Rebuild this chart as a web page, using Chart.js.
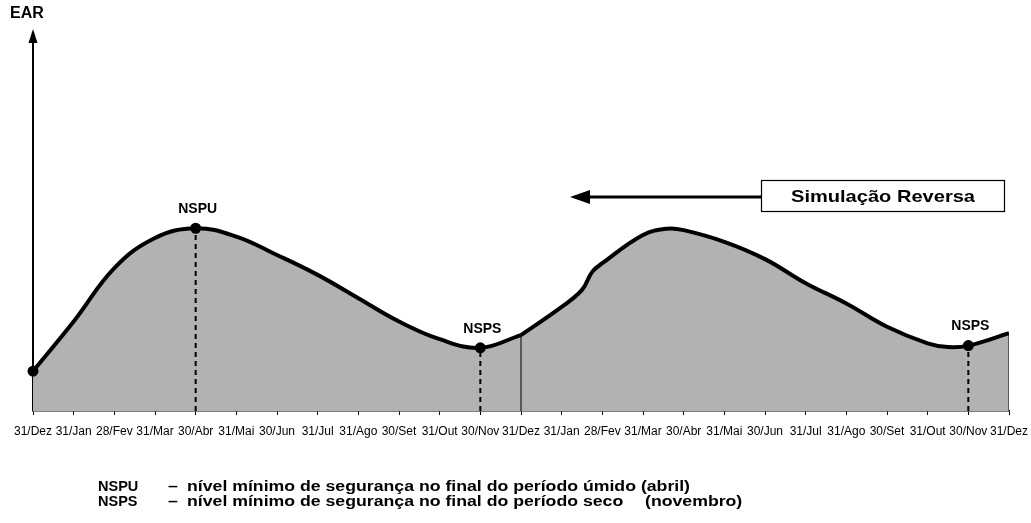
<!DOCTYPE html>
<html>
<head>
<meta charset="utf-8">
<script src="https://cdn.jsdelivr.net/npm/chart.js@4.4.1/dist/chart.umd.min.js"></script>
<style>
  body { margin: 0; background: #fff; }
</style>
</head>
<body>
<canvas id="chart" width="1031" height="523"></canvas>
<script>
// month tick labels (two years, month index 0..24)
const monthLabels = ['31/Dez', '31/Jan', '28/Fev', '31/Mar', '30/Abr', '31/Mai', '30/Jun', '31/Jul', '31/Ago', '30/Set', '31/Out', '30/Nov',
    '31/Dez', '31/Jan', '28/Fev', '31/Mar', '30/Abr', '31/Mai', '30/Jun', '31/Jul', '31/Ago', '30/Set', '31/Out', '30/Nov', '31/Dez'];

// EAR curve, first year (forward)
const year1Month = [0, 1, 2, 3, 4, 5, 6, 7, 8, 9, 10, 11, 12];
const year1Ear = [10.6, 23.8, 38.0, 46.0, 48.6, 46.4, 41.5, 36.2, 30.0, 23.8, 19.1, 16.8, 20.2];

// EAR curve, second year (reverse simulation)
const year2Month = [12, 13, 13.5, 13.75, 14, 15, 15.6, 16, 17, 18, 19, 20, 21, 22, 22.5, 23, 24];
const year2Ear = [20.2, 27.7, 32.2, 37.0, 39.3, 46.8, 48.5, 48.1, 45.0, 40.4, 34.0, 28.6, 22.4, 18.0, 17.0, 17.4, 20.7];

// marked levels
const markMonth = [0, 4, 11, 23];
const markEar = [10.6, 48.6, 16.8, 17.4];
const markName = ['', 'NSPU', 'NSPS', 'NSPS'];

const FONT = '"Liberation Sans", Arial, Helvetica, sans-serif';

const toXY = (xs, ys) => xs.map((x, i) => ({ x: x, y: ys[i] }));

const datasets = [
    { data: toXY(year1Month, year1Ear), borderColor: '#000', borderWidth: 4, backgroundColor: '#b2b2b2',
      fill: 'origin', pointRadius: 0, tension: 0.4, order: 3 },
    { data: toXY(year2Month, year2Ear), borderColor: '#000', borderWidth: 4, backgroundColor: '#b2b2b2',
      fill: 'origin', pointRadius: 0, tension: 0.4, order: 3 },
    // year boundaries
    { data: [{ x: 12, y: 0 }, { x: 12, y: year2Ear[0] }], borderColor: '#000', borderWidth: 1, pointRadius: 0, fill: false, order: 2 },
    { data: [{ x: 24, y: 0 }, { x: 24, y: year2Ear[year2Ear.length - 1] }], borderColor: '#000', borderWidth: 1, pointRadius: 0, fill: false, order: 2 }
];

// dashed drops from the marked levels
markMonth.forEach((m, i) => {
    if (!markName[i]) return;
    datasets.push({ data: [{ x: m, y: 0 }, { x: m, y: markEar[i] }], borderColor: '#000', borderWidth: 2,
        borderDash: [5, 4], pointRadius: 0, fill: false, order: 2 });
});

datasets.push({ data: toXY(markMonth, markEar), showLine: false, pointRadius: 5.5, pointBackgroundColor: '#000',
    pointBorderWidth: 0, clip: false, order: 1 });
const markIndex = datasets.length - 1;

// draw text stretched horizontally by sx (left aligned at x)
function wideText(ctx, text, x, y, sx) {
    ctx.save();
    ctx.translate(x, y);
    ctx.scale(sx, 1);
    ctx.textAlign = 'left';
    ctx.fillText(text, 0, 0);
    ctx.restore();
}

const decor = {
    id: 'decor',
    beforeDatasetsDraw(chart) {
        const ctx = chart.ctx;
        const area = chart.chartArea;
        ctx.save();
        ctx.fillStyle = '#000';
        ctx.strokeStyle = '#000';
        // y axis with arrow
        ctx.lineWidth = 2;
        ctx.beginPath();
        ctx.moveTo(area.left, area.bottom);
        ctx.lineTo(area.left, 42);
        ctx.stroke();
        ctx.beginPath();
        ctx.moveTo(area.left, 29);
        ctx.lineTo(area.left - 4.5, 43);
        ctx.lineTo(area.left + 4.5, 43);
        ctx.closePath();
        ctx.fill();
        ctx.restore();
    },
    afterDatasetsDraw(chart) {
        const ctx = chart.ctx;
        ctx.save();
        ctx.fillStyle = '#000';
        ctx.strokeStyle = '#000';

        ctx.textAlign = 'center';
        ctx.textBaseline = 'middle';
        ctx.font = 'bold 16px ' + FONT;
        ctx.fillText('EAR', 27, 14);

        // level names
        ctx.font = 'bold 14px ' + FONT;
        const pts = chart.getDatasetMeta(markIndex).data;
        pts.forEach((p, i) => {
            if (markName[i]) ctx.fillText(markName[i], p.x + 2, p.y - 19);
        });

        // Simulação Reversa box + arrow
        ctx.lineWidth = 1.2;
        ctx.strokeRect(761.5, 180.5, 243, 31);
        ctx.font = 'bold 17px ' + FONT;
        const title = 'Simulação Reversa';
        wideText(ctx, title, 791, 197, 184 / ctx.measureText(title).width);
        ctx.lineWidth = 3;
        ctx.beginPath();
        ctx.moveTo(761, 197);
        ctx.lineTo(585, 197);
        ctx.stroke();
        ctx.beginPath();
        ctx.moveTo(570, 197);
        ctx.lineTo(590, 190);
        ctx.lineTo(590, 204);
        ctx.closePath();
        ctx.fill();

        // legend text
        ctx.textAlign = 'left';
        ctx.font = 'bold 14.5px ' + FONT;
        ctx.fillText('NSPU', 98, 487);
        ctx.fillText('NSPS', 98, 502);
        const line1 = 'nível mínimo de segurança no final do período úmido (abril)';
        const sx = 503 / ctx.measureText(line1).width;
        wideText(ctx, '–', 168, 487, sx);
        wideText(ctx, '–', 168, 502, sx);
        wideText(ctx, line1, 187, 487, sx);
        wideText(ctx, 'nível mínimo de segurança no final do período seco', 187, 502, sx);
        wideText(ctx, '(novembro)', 645, 502, sx);
        ctx.restore();
    }
};

new Chart(document.getElementById('chart'), {
    type: 'line',
    data: { datasets: datasets },
    options: {
        responsive: false,
        animation: false,
        layout: { padding: { left: 33, right: 22, top: 35, bottom: 0 } },
        plugins: { legend: { display: false }, tooltip: { enabled: false } },
        scales: {
            x: {
                type: 'linear',
                min: 0,
                max: 24,
                afterFit: (scale) => {
                    scale.height = 112;
                    scale.paddingLeft = 0;
                    scale.paddingRight = 0;
                },
                border: { color: '#000', width: 1.5 },
                grid: { drawOnChartArea: false, color: '#000', lineWidth: 1, tickLength: 4 },
                ticks: {
                    stepSize: 1,
                    autoSkip: false,
                    maxRotation: 0,
                    padding: 9,
                    color: '#000',
                    font: { family: FONT, size: 12 },
                    callback: (v) => monthLabels[v]
                }
            },
            y: { display: false, min: 0, max: 100 }
        }
    },
    plugins: [decor]
});
</script>
</body>
</html>
